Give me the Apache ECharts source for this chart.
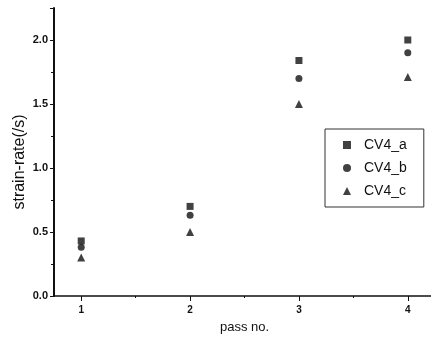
<!DOCTYPE html>
<html>
<head>
<meta charset="utf-8">
<script src="https://cdn.jsdelivr.net/npm/echarts@6/dist/echarts.min.js"></script>
<style>
html, body { margin: 0; padding: 0; background: #fff; }
#main { width: 431px; height: 343px; }
</style>
</head>
<body>
<div id="main"></div>
<script>
// pass number and strain rate of each run
var passNo = [1, 2, 3, 4];
var cv4A = [0.43, 0.70, 1.84, 2.00];
var cv4B = [0.38, 0.63, 1.70, 1.90];
var cv4C = [0.30, 0.50, 1.50, 1.71];
var seriesNames = ['CV4_a', 'CV4_b', 'CV4_c'];
var symbols = ['rect', 'circle', 'triangle'];
var symbolSizes = [7, 7, 8];
var xTicks = [1, 2, 3, 4];
var xMinorTicks = [1.5, 2.5, 3.5];
var xLabels = [1, 2, 3, 4];

function pairs(ys) { // [x, y] points
    var out = [];
    for (var i = 0; i < passNo.length; i++) out.push([passNo[i], ys[i]]);
    return out;
}

var font = 'Liberation Sans, Arial, sans-serif';
var allData = [cv4A, cv4B, cv4C];
var series = [];
for (var k = 0; k < 3; k++) {
    series.push({
        name: seriesNames[k],
        type: 'scatter',
        symbol: symbols[k],
        symbolSize: symbolSizes[k],
        itemStyle: { color: '#111' },
        data: pairs(allData[k])
    });
}

var xCommon = {
    type: 'value',
    min: 0.75,
    max: 4.25,
    splitLine: { show: false }
};

var option = {
    animation: false,
    backgroundColor: '#fff',
    grid: { left: 54, top: 8, width: 381, height: 288, outerBoundsMode: 'none', containLabel: false },
    legend: {
        orient: 'vertical',
        left: 325,
        top: 129,
        padding: [9, 17, 9, 18],
        itemWidth: 8,
        itemHeight: 8,
        itemGap: 9,
        borderColor: '#333',
        borderWidth: 1,
        textStyle: { fontFamily: font, fontSize: 14, color: '#111', padding: [0, 0, 0, 8] },
        data: seriesNames
    },
    xAxis: [
        Object.assign({}, xCommon, {
            name: 'pass no.',
            nameLocation: 'middle',
            nameGap: 25,
            nameTextStyle: { fontFamily: font, fontSize: 13, color: '#111' },
            axisLine: { lineStyle: { color: '#111', width: 1.5 } },
            axisTick: { length: 5, customValues: xTicks, lineStyle: { color: '#111' } },
            axisLabel: {
                customValues: xLabels,
                fontFamily: font, fontSize: 10, fontWeight: 'bold', color: '#111', margin: 9
            }
        }),
        // second copy only for the small half-step ticks
        Object.assign({}, xCommon, {
            position: 'bottom',
            axisLine: { show: false },
            axisTick: { length: 2, customValues: xMinorTicks, lineStyle: { color: '#111' } },
            axisLabel: { show: false }
        })
    ],
    yAxis: {
        type: 'value',
        min: 0,
        max: 2.25,
        interval: 0.5,
        name: 'strain-rate(/s)',
        nameLocation: 'middle',
        nameGap: 26,
        nameMoveOverlap: false,
        nameTextStyle: { fontFamily: font, fontSize: 16, color: '#111', padding: [0, 20, 0, 0] },
        splitLine: { show: false },
        axisLine: { lineStyle: { color: '#111', width: 2 } },
        axisTick: { length: 4, lineStyle: { color: '#111' } },
        minorTick: { show: true, splitNumber: 2, length: 3, lineStyle: { color: '#111' } },
        axisLabel: {
            fontFamily: font, fontSize: 11, fontWeight: 'bold', color: '#111', margin: 6,
            formatter: function (v) { return (Math.abs(v * 2 - Math.round(v * 2)) < 1e-6) ? v.toFixed(1) : ''; }
        }
    },
    series: series
};

var myChart = echarts.init(document.getElementById('main'));
myChart.setOption(option);
</script>
</body>
</html>
